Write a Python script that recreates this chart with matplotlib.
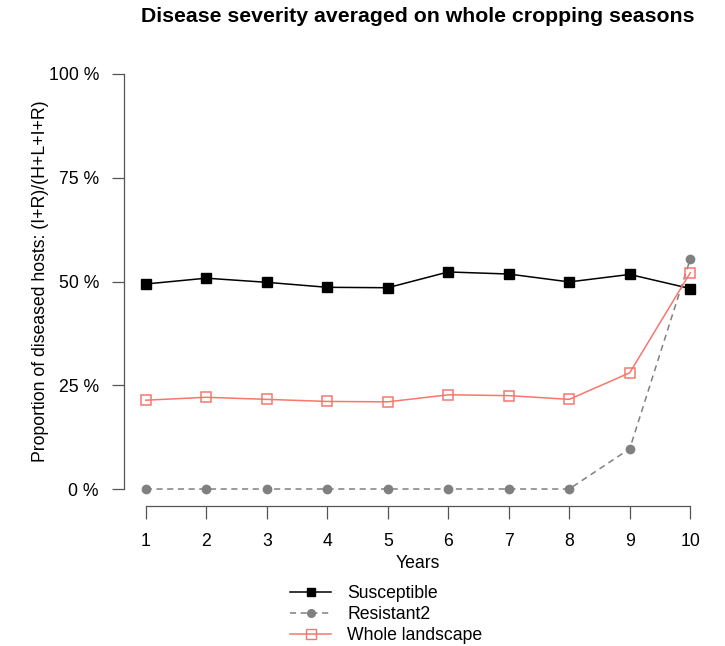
import matplotlib
matplotlib.use('Agg')
import matplotlib.pyplot as plt
from matplotlib.lines import Line2D
import numpy as np

plt.rcParams['font.family'] = ['Liberation Sans', 'DejaVu Sans']

# data (percent)
years = [1, 2, 3, 4, 5, 6, 7, 8, 9, 10]
susceptible = [49.4, 50.8, 49.8, 48.6, 48.5, 52.3, 51.8, 49.9, 51.7, 48.3]
resistant2 = [0, 0, 0, 0, 0, 0, 0, 0, 9.7, 55.4]
whole = [21.4, 22.1, 21.6, 21.1, 21.0, 22.7, 22.5, 21.6, 28.0, 52.1]
ytick_vals = [0, 25, 50, 75, 100]
ytick_labels = ['0 %', '25 %', '50 %', '75 %', '100 %']
series_names = ['Susceptible', 'Resistant2', 'Whole landscape']

salmon = '#f8766d'
grey = '#808080'
fs = 12.7

fig = plt.figure(figsize=(7.25, 6.46), dpi=100)
ax = fig.add_axes([124 / 725, 1 - 505.6 / 646, (712 - 124) / 725, (505.6 - 57.4) / 646])

ax.plot(years, susceptible, color='black', lw=1.1, marker='s', ms=6.5,
        mfc='black', mec='black')
ax.plot(years, resistant2, color=grey, lw=1.1, ls=(0, (4, 3)), marker='o', ms=6,
        mfc=grey, mec=grey)
ax.plot(years, whole, color=salmon, lw=1.1, marker='s', ms=7.5,
        mfc='none', mec=salmon, mew=1.1)

ax.set_xlim(0.64, 10.36)
ax.set_ylim(-4, 104)

# R-style detached axes
for s in ['top', 'right']:
    ax.spines[s].set_visible(False)
ax.spines['left'].set_bounds(0, 100)
ax.spines['bottom'].set_bounds(1, 10)
for s in ['left', 'bottom']:
    ax.spines[s].set_color('#555555')
    ax.spines[s].set_linewidth(0.9)

ax.set_xticks(years)
ax.set_xticklabels([str(y) for y in years], fontsize=fs)
ax.set_yticks(ytick_vals)
ax.set_yticklabels(ytick_labels, fontsize=fs)
ax.tick_params(axis='both', length=9, width=0.9, color='#555555')
ax.tick_params(axis='y', pad=9)
ax.tick_params(axis='x', pad=11)

ax.set_xlabel('Years', fontsize=fs, labelpad=3)
ax.set_ylabel('Proportion of diseased hosts: (I+R)/(H+L+I+R)', fontsize=fs, labelpad=0)

fig.text(418 / 725, 1 - 16 / 646, 'Disease severity averaged on whole cropping seasons',
         ha='center', va='center', fontsize=15.3, fontweight='bold')

handles = [
    Line2D([], [], color='black', lw=1.1, marker='s', ms=6, mfc='black'),
    Line2D([], [], color=grey, lw=1.1, ls=(0, (4, 3)), marker='o', ms=5.5, mfc=grey, mec=grey),
    Line2D([], [], color=salmon, lw=1.1, marker='s', ms=7, mfc='none', mec=salmon),
]
fig.legend(handles, series_names, loc='center left',
           bbox_to_anchor=(290 / 725, 1 - 614.5 / 646), frameon=False,
           fontsize=fs, handlelength=2.35, handletextpad=0.9,
           labelspacing=0.24, borderaxespad=0, borderpad=0)

fig.savefig('out.png', dpi=100)
